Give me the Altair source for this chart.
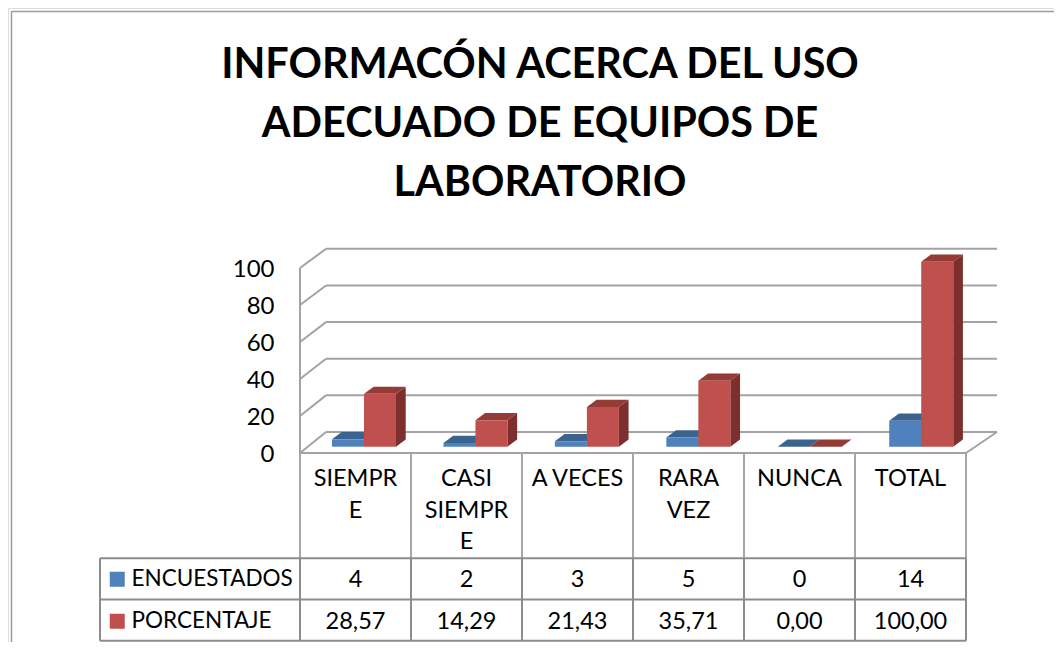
import altair as alt
import pandas as pd

TITLE_LINES = ["INFORMACÓN ACERCA DEL USO", "ADECUADO DE EQUIPOS DE", "LABORATORIO"]
CATEGORIES = ["SIEMPRE", "CASI SIEMPRE", "A VECES", "RARA VEZ", "NUNCA", "TOTAL"]
HEADER_TEXT = ["SIEMPR\nE", "CASI\nSIEMPR\nE", "A VECES", "RARA\nVEZ", "NUNCA", "TOTAL"]
ENCUESTADOS = [4, 2, 3, 5, 0, 14]
PORCENTAJE = [28.57, 14.29, 21.43, 35.71, 0.00, 100.00]
ENC_TEXT = ["4", "2", "3", "5", "0", "14"]
POR_TEXT = ["28,57", "14,29", "21,43", "35,71", "0,00", "100,00"]
Y_TICKS = [0, 20, 40, 60, 80, 100]
SERIES = ["ENCUESTADOS", "PORCENTAJE"]

FONT = "Lato"
W, H = 1046, 634          # whole picture less the page margin
BAND = 111.0              # pixels per category
PX_V = 1.85               # pixels per value unit
X0, Y0 = 292.0, 445.0     # category 0 / value 0, in plot pixels

XS = alt.Scale(domain=[-X0 / BAND, (W - X0) / BAND], range=[0, W], nice=False, zero=False)
YS = alt.Scale(domain=[(Y0 - H) / PX_V, Y0 / PX_V], range=[H, 0], nice=False, zero=False)
Y_AXIS = alt.Axis(values=Y_TICKS, offset=-X0, domain=False, ticks=False, grid=False, labelFont=FONT,
                  labelFontSize=24, labelColor="#000000", labelPadding=26, labelBaseline="middle",
                  labelOffset=1.5, title=None)
def X(f, **k): return alt.X(f, type="quantitative", scale=XS, axis=None, title=None, **k)
def Y(f, **k): return alt.Y(f, type="quantitative", scale=YS, axis=Y_AXIS, title=None, stack=None, **k)
def vpx(px): return (Y0 - px) / PX_V

# ----- wall depth, in data units
WALL_DX_L, WALL_DX_R, WALL_DY = 26 / BAND, 31 / BAND, 21 / PX_V
def back(v): return v * 0.99 + WALL_DY

walls = []
for t in Y_TICKS:
    walls.append(dict(x=0, x2=WALL_DX_L, y=t, y2=back(t)))
    walls.append(dict(x=WALL_DX_L, x2=6 + WALL_DX_R, y=back(t), y2=back(t)))
walls.append(dict(x=0, x2=0, y=0, y2=100))
walls.append(dict(x=0, x2=6, y=0, y2=0))
walls.append(dict(x=6, x2=6 + WALL_DX_R, y=0, y2=back(0)))
wall_layer = alt.Chart(pd.DataFrame(walls)).mark_rule(color="#a3a3a3", strokeWidth=2).encode(
    x=X("x"), x2="x2", y=Y("y"), y2="y2")

# ----- bars
STEP, BAR_W = 1.004, 32 / BAND
BAR_OFF = {"ENCUESTADOS": 32 / BAND, "PORCENTAJE": 64 / BAND}
BASE, DX, DY = 6.3 / PX_V, 9.7 / BAND, 7.2 / PX_V

fronts, tops, sides = [], [], []
for name, vals in zip(SERIES, [ENCUESTADOS, PORCENTAJE]):
    for i, (c, v) in enumerate(zip(CATEGORIES, vals)):
        xl = i * STEP + BAR_OFF[name]
        xr = xl + BAR_W
        bar = f"{name}{i}"
        fronts.append(dict(cat=c, serie=name, x=xl, x2=xr, y=BASE, y2=BASE + v))
        tops.append(dict(bar=bar, serie=name, y=BASE + v, x=xl, x2=xr))
        tops.append(dict(bar=bar, serie=name, y=BASE + v + DY, x=xl + DX, x2=xr + DX))
        sides.append(dict(bar=bar, serie=name, x=xr, y=BASE, y2=BASE + v))
        sides.append(dict(bar=bar, serie=name, x=xr + DX, y=BASE + DY, y2=BASE + v + DY))

tops_df, sides_df = pd.DataFrame(tops), pd.DataFrame(sides)
TOP_COL = alt.Scale(domain=SERIES, range=["#3a6390", "#943a37"])
SIDE_COL = alt.Scale(domain=SERIES, range=["#335780", "#7d2f2d"])
top_layer = alt.Chart(tops_df).mark_area(orient="horizontal").encode(
    y=Y("y"), x=X("x"), x2="x2", detail="bar:N",
    fill=alt.Fill("serie:N", scale=TOP_COL, legend=None))
side_layer = alt.Chart(sides_df).mark_area(orient="vertical").encode(
    x=X("x"), y=Y("y"), y2="y2", detail="bar:N",
    fill=alt.Fill("serie:N", scale=SIDE_COL, legend=None))
front_layer = alt.Chart(pd.DataFrame(fronts)).mark_bar(cornerRadius=0).encode(
    x=X("x"), x2="x2", y=Y("y"), y2="y2",
    color=alt.Color("serie:N", scale=alt.Scale(domain=SERIES, range=["#4f81bd", "#c0504d"]),
                    title=None,
                    legend=alt.Legend(orient="none", legendX=98, legendY=560, symbolType="square",
                                      symbolSize=225, symbolStrokeWidth=0, labelFont=FONT,
                                      labelFontSize=22.5, labelColor="#000000", labelOffset=3,
                                      labelLimit=220, rowPadding=19, title=None)))

# ----- data table lines
ROW_1, ROW_2, ROW_3 = 550.3, 591.5, 632.8
idx = list(range(7))
upper = pd.DataFrame({"x": idx})
upper_lines = alt.Chart(upper).mark_rule(color="#a6a6a6", strokeWidth=2).encode(
    x=X("x"), y=alt.value(445), y2=alt.value(ROW_1))
lower_lines = alt.Chart(upper).mark_rule(color="#8c8c8c", strokeWidth=2).encode(
    x=X("x"), y=alt.value(ROW_1), y2=alt.value(ROW_3))
left_line = alt.Chart(pd.DataFrame({"x": [-200 / BAND]})).mark_rule(color="#8c8c8c", strokeWidth=2).encode(
    x=X("x"), y=alt.value(ROW_1), y2=alt.value(ROW_3))
rows = pd.DataFrame({"x": [-200 / BAND] * 3, "x2": [6] * 3, "y": [vpx(ROW_1), vpx(ROW_2), vpx(ROW_3)]})
h_lines = alt.Chart(rows).mark_rule(color="#8c8c8c", strokeWidth=2).encode(
    x=X("x"), x2="x2", y=Y("y"))

# ----- table text
def cell_text(labels, ypx, **mk):
    df = pd.DataFrame({"x": [i + 0.5 for i in range(6)], "t": labels})
    return alt.Chart(df).mark_text(font=FONT, fontSize=23.5, color="#000000", align="center", **mk).encode(
        x=X("x"), y=alt.value(ypx), text="t:N")

header = cell_text(HEADER_TEXT, 471, lineBreak="\n", lineHeight=31.5)
row_enc = cell_text(ENC_TEXT, 572, baseline="middle")
row_por = cell_text(POR_TEXT, 613.5, baseline="middle")

# ----- outer frame
frame = pd.DataFrame({"a": [3.5]})
frame_top = alt.Chart(frame).mark_rule(color="#9a9a9a", strokeWidth=1.5).encode(
    x=alt.value(3.5), x2=alt.value(W), y=alt.value(3.5))
frame_left = alt.Chart(frame).mark_rule(color="#9a9a9a", strokeWidth=1.5).encode(
    x=alt.value(3.5), y=alt.value(3.5), y2=alt.value(H))

chart = alt.layer(
    frame_top, frame_left, wall_layer, upper_lines, lower_lines, left_line, h_lines,
    top_layer, side_layer, front_layer, header, row_enc, row_por,
).resolve_scale(fill="independent", color="independent").properties(
    width=W, height=H, padding=0, autosize=alt.AutoSizeParams(type="none"),
    title=alt.TitleParams(text=TITLE_LINES, font=FONT, fontSize=41.4, fontWeight="bold", color="#000000",
                          anchor="middle", frame="group", baseline="top", lineHeight=59, dx=9, offset=-196),
).configure_view(stroke=None).configure(background="white")

chart.save("out.html", embed_options={"renderer": "svg", "actions": False})
